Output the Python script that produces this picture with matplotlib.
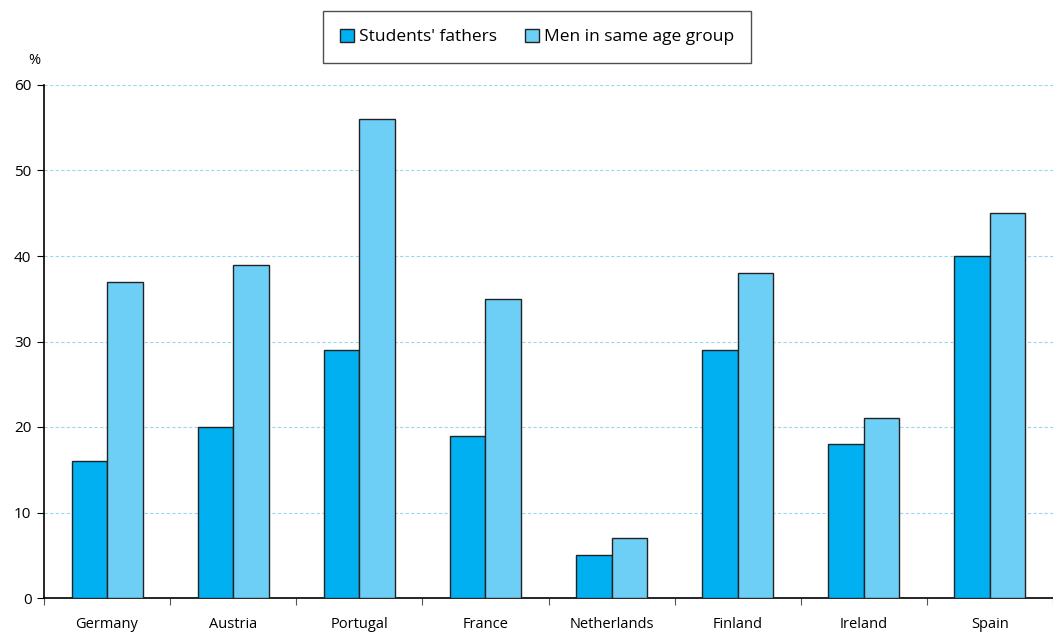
import numpy as np
import matplotlib.pyplot as plt

countries = ["Germany", "Austria", "Portugal", "France", "Netherlands", "Finland", "Ireland", "Spain"]
fathers = [16, 20, 29, 19, 5, 29, 18, 40]
men = [37, 39, 56, 35, 7, 38, 21, 45]
yticks = [0, 10, 20, 30, 40, 50, 60]

plt.rcParams['font.family'] = ['Open Sans', 'DejaVu Sans']

fig = plt.figure(figsize=(10.53, 6.36), dpi=100)
ax = fig.add_axes([44/1053, 1 - 598/636, 1 - 44/1053, (598 - 85)/636])

x = np.arange(len(countries))
w = 0.281
ax.bar(x - w/2, fathers, w, color="#00B0F0", edgecolor="#222222", linewidth=1,
       label="Students' fathers", zorder=3)
ax.bar(x + w/2, men, w, color="#6DCFF6", edgecolor="#222222", linewidth=1,
       label="Men in same age group", zorder=3)

ax.set_xlim(-0.5, 7.445)
ax.set_ylim(0, 60)
ax.set_yticks(yticks)
ax.set_yticklabels([str(v) for v in yticks], fontsize=11)
ax.set_xticks(np.arange(len(countries) + 1) - 0.5)
ax.set_xticklabels([])
ax.set_xticks(x, minor=True)
ax.set_xticklabels(countries, minor=True, fontsize=10.5)
ax.tick_params(axis='x', which='minor', length=0, pad=14)
ax.tick_params(axis='x', which='major', length=5, direction='out', color="#555555")
ax.tick_params(axis='y', length=5, direction='out', pad=4)

ax.grid(axis='y', color="#9ad8f2", linestyle=(0, (3, 2)), linewidth=0.8, zorder=0)
for s in ['top', 'right']:
    ax.spines[s].set_visible(False)
ax.spines['left'].set_linewidth(1.2)
ax.spines['bottom'].set_linewidth(1.2)

fig.text(34/1053, 1 - 61/636, "%", fontsize=10.5, ha='center', va='center')

leg = ax.legend(loc='center', bbox_to_anchor=(537/1053, 1 - 37/636), bbox_transform=fig.transFigure,
                ncol=2, fontsize=12.5, frameon=True, fancybox=False, edgecolor="#222222",
                handlelength=0.8, handleheight=0.8, handletextpad=0.3, columnspacing=1.6,
                borderpad=1.0, borderaxespad=0)
leg.get_frame().set_linewidth(1)

fig.savefig("out.png", dpi=100)
